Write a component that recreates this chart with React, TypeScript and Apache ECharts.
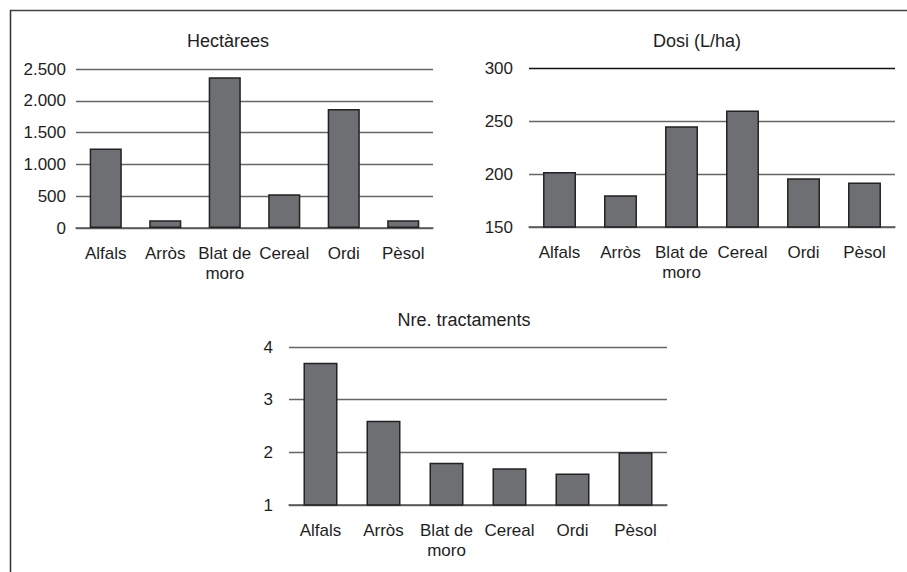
import React, { useEffect, useRef } from "react";
import * as echarts from "echarts";

const categories = ["Alfals", "Arròs", "Blat de\nmoro", "Cereal", "Ordi", "Pèsol"];
const titles = ["Hectàrees", "Dosi (L/ha)", "Nre. tractaments"];
const hectarees = [1250, 120, 2370, 530, 1870, 120];
const dosi = [202, 180, 245, 260, 196, 192];
const tractaments = [3.7, 2.6, 1.8, 1.7, 1.6, 2.0];
const hectareesTicks = { min: 0, max: 2500, interval: 500 };
const dosiTicks = { min: 150, max: 300, interval: 50 };
const tractamentsTicks = { min: 1, max: 4, interval: 1 };

const FONT = "'Liberation Sans', Arial, sans-serif";
const TEXT = "#1e1e1e";
const GRIDC = "#666";
const BAR = "#6e6f73";

function fmtThousands(v: number): string {
  return String(v).replace(/\B(?=(\d{3})+(?!\d))/g, ".");
}

export default function App() {
  const ref = useRef<HTMLDivElement>(null);
  useEffect(() => {
    if (!ref.current) return;
    const chart = echarts.init(ref.current, null, { renderer: "svg" });
    const grids = [
      { left: 76, top: 69, width: 357, height: 159 },
      { left: 529, top: 68, width: 366, height: 159 },
      { left: 289, top: 347, width: 378, height: 158 },
    ];
    const ticks = [hectareesTicks, dosiTicks, tractamentsTicks];
    const data = [hectarees, dosi, tractaments];
    const labelMargins = [10, 16, 16];
    const titlePos = [
      { x: 228, y: 32 },
      { x: 697, y: 32 },
      { x: 464, y: 311 },
    ];
    const splitColors = [
      GRIDC,
      [GRIDC, GRIDC, GRIDC, "#111"],
      GRIDC,
    ];
    chart.setOption({
      animation: false,
      backgroundColor: "#fff",
      textStyle: { fontFamily: FONT },
      title: titles.map((t, i) => ({
        text: t,
        left: titlePos[i].x,
        top: titlePos[i].y,
        textAlign: "center",
        padding: 0,
        textStyle: { fontFamily: FONT, fontSize: 18, fontWeight: "normal", color: TEXT },
      })),
      grid: grids,
      xAxis: grids.map((_, i) => ({
        type: "category",
        gridIndex: i,
        data: categories,
        axisTick: { show: false },
        axisLine: { lineStyle: { color: "#555", width: 1.5 } },
        axisLabel: {
          interval: 0,
          fontFamily: FONT,
          fontSize: 17,
          lineHeight: 20,
          color: TEXT,
          margin: 15,
        },
      })),
      yAxis: grids.map((_, i) => ({
        type: "value",
        gridIndex: i,
        min: ticks[i].min,
        max: ticks[i].max,
        interval: ticks[i].interval,
        axisLine: { show: false },
        axisTick: { show: false },
        splitLine: { lineStyle: { color: splitColors[i], width: 1.3 } },
        axisLabel: {
          fontFamily: FONT,
          fontSize: 17,
          color: TEXT,
          margin: labelMargins[i],
          formatter: i === 0 ? (v: number) => fmtThousands(v) : (v: number) => String(v),
        },
      })),
      series: data.map((d, i) => ({
        type: "bar",
        xAxisIndex: i,
        yAxisIndex: i,
        data: d,
        barWidth: "54%",
        itemStyle: { color: BAR, borderColor: "#222", borderWidth: 1.5 },
      })),
      graphic: [
        {
          type: "line",
          shape: { x1: 10, y1: 10.5, x2: 907, y2: 10.5 },
          style: { stroke: "#444", lineWidth: 1.5 },
        },
        {
          type: "line",
          shape: { x1: 10.5, y1: 10, x2: 10.5, y2: 572 },
          style: { stroke: "#333", lineWidth: 1.5 },
        },
      ],
    });
    return () => chart.dispose();
  }, []);
  return (
    <div
      ref={ref}
      style={{ position: "fixed", left: 0, top: 0, width: 907, height: 572 }}
    />
  );
}
